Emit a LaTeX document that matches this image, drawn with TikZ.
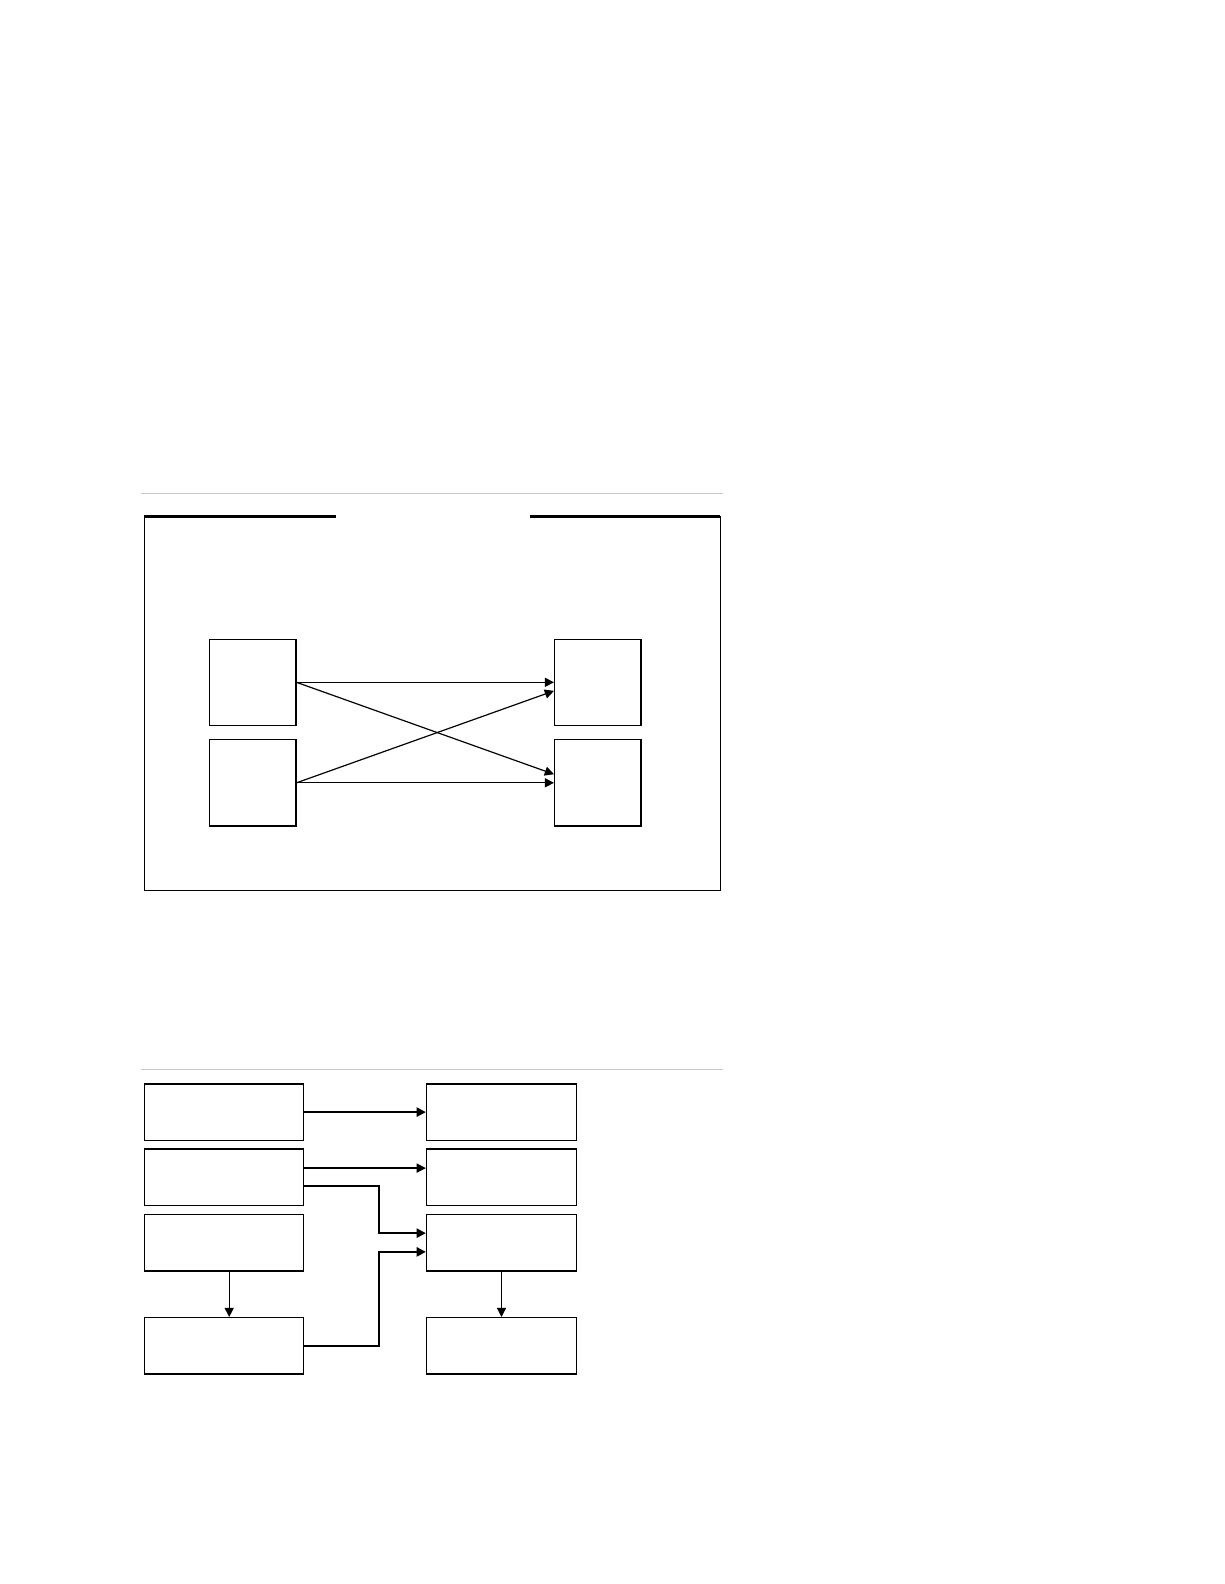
\documentclass[tikz,border=0pt]{standalone}
\usepackage{tikz}
\usetikzlibrary{arrows.meta,positioning,calc}
\tikzstyle{box} = [draw, line width=0.75pt, inner sep=0pt]
\tikzstyle{arrow} = [line width=0.6pt,-{Triangle[length=4.6pt,width=4.6pt]}]
\tikzstyle{thickarrow} = [arrow, line width=1.0pt]
\tikzstyle{rule} = [line width=0.5pt, color=black!22]
\begin{document}
\begin{tikzpicture}[x=0.50695pt, y=-0.50695pt]
\useasboundingbox (0,0) rectangle (1211.8,1568.2);

% Upper figure
\draw[rule] (140,489) -- (716,489);
\draw[line width=0.6pt] (143,511) -- (143,882) -- (713,882) -- (713,511);
\draw[line width=1.4pt] (143,511) -- (333,511);
\draw[line width=1.4pt] (525,511) -- (713,511);

\node[box, minimum width=43.4pt, minimum height=43.1pt] (inA) at (250,675.5) {};
\node[box, minimum width=43.4pt, minimum height=43.4pt] (inB) at (250,775) {};
\node[box, minimum width=43.4pt, minimum height=43.1pt] (outA) at (592,675.5) {};
\node[box, minimum width=43.4pt, minimum height=43.4pt] (outB) at (592,775) {};

\draw[arrow] (inA.east) -- (outA.west);
\draw[arrow] (inA.east) -- ([yshift=4.3pt]outB.west);
\draw[arrow] (inB.east) -- ([yshift=-4.3pt]outA.west);
\draw[arrow] (inB.east) -- (outB.west);

% Lower figure
\draw[rule] (140,1059) -- (716,1059);
\tikzstyle{lbox} = [box, minimum width=79.8pt, minimum height=28.3pt]
\tikzstyle{rbox} = [box, minimum width=75.2pt, minimum height=28.3pt]
\node[lbox] (srcA) at (222,1101) {};
\node[lbox] (srcB) at (222,1165.5) {};
\node[lbox] (srcC) at (222,1230.5) {};
\node[lbox] (srcD) at (222,1332.5) {};
\node[rbox] (dstA) at (496.5,1101) {};
\node[rbox] (dstB) at (496.5,1165.5) {};
\node[rbox] (dstC) at (496.5,1230.5) {};
\node[rbox] (dstD) at (496.5,1332.5) {};

\coordinate (bend) at (375.6,1200);
\coordinate (inC1) at ([yshift=4.9pt]dstC.west);
\coordinate (inC2) at ([yshift=-4.5pt]dstC.west);
\coordinate (outB1) at ([yshift=4.6pt]srcB.east);

\draw[thickarrow] (srcA.east) -- (dstA.west);
\draw[arrow] (outB1) -- (outB1 -| dstB.west);
\draw[thickarrow] ([yshift=-4.3pt]srcB.east) -| (bend |- inC1) -- (inC1);
\draw[thickarrow] (srcD.east) -| (bend |- inC2) -- (inC2);
\draw[arrow] ([xshift=2.5pt]srcC.south) -- ([xshift=2.5pt]srcD.north);
\draw[arrow] (dstC.south) -- (dstD.north);
\end{tikzpicture}
\end{document}
